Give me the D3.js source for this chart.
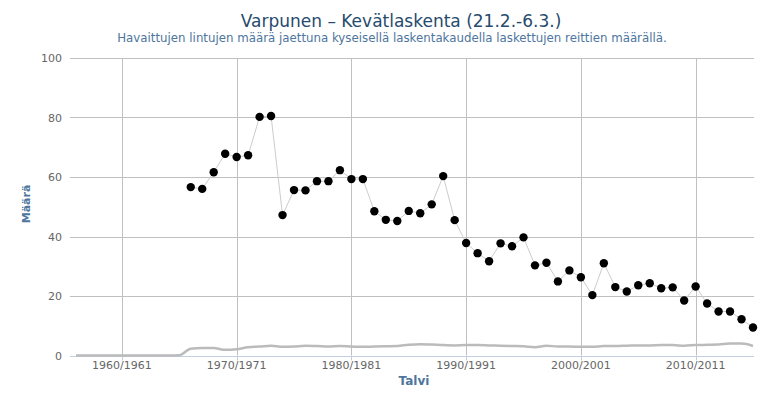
<!DOCTYPE html>
<html><head><meta charset="utf-8">
<script src="https://cdn.jsdelivr.net/npm/d3@7"></script>
<style>
body{margin:0;background:#fff;}
svg{font-family:"DejaVu Sans","Lucida Grande",sans-serif;}
</style></head>
<body><svg id="c" width="784" height="396"></svg>
<script>
const years = d3.range(1966, 2016);
const counts = [56.6,56.0,61.6,67.8,66.7,67.3,80.2,80.5,47.2,55.6,55.5,58.6,58.6,62.3,59.3,59.3,48.5,45.6,45.2,48.6,47.8,50.8,60.3,45.5,
37.8,34.4,31.7,37.7,36.7,39.7,30.3,31.2,24.9,28.6,26.3,20.3,31.0,23.0,21.5,23.6,24.3,22.6,22.9,18.5,23.2,17.5,14.8,14.8,12.2,9.4];
const routeYears = d3.range(1956, 2016);
const routes = [0,0,0,0,0,0,0,0,0,0.1,2.3,2.5,2.5,1.9,2.1,2.8,3.0,3.3,2.9,3.0,3.3,3.2,3.0,3.2,3.0,2.9,3.0,3.1,3.2,3.6,3.8,3.7,3.5,3.4,3.5,3.5,3.4,3.3,3.2,3.1,2.8,3.3,3.0,3.0,2.9,2.9,3.2,3.2,3.3,3.4,3.4,3.5,3.5,3.3,3.5,3.6,3.7,4.0,4.0,3.2];
const xTicks = [1960,1970,1980,1990,2000,2010];
const yTicks = [0,20,40,60,80,100];
const title = "Varpunen – Kevätlaskenta (21.2.-6.3.)";
const subtitle = "Havaittujen lintujen määrä jaettuna kyseisellä laskentakaudella laskettujen reittien määrällä.";

const svg = d3.select("#c");
const x = d3.scaleLinear().domain([1956, 2015]).range([76, 753]);
const y = d3.scaleLinear().domain([0, 100]).range([355.5, 58]);
const gridL = 70, gridR = 754;

// horizontal grid
svg.append("g").selectAll("line").data(yTicks.filter(d=>d>0)).join("line")
  .attr("x1", gridL).attr("x2", gridR).attr("y1", d=>Math.round(y(d))+0.5).attr("y2", d=>Math.round(y(d))+0.5)
  .attr("stroke", "#C0C0C0").attr("stroke-width", 1);
// vertical grid
svg.append("g").selectAll("line").data(xTicks).join("line")
  .attr("x1", d=>Math.round(x(d))+0.5).attr("x2", d=>Math.round(x(d))+0.5)
  .attr("y1", 58).attr("y2", y(0))
  .attr("stroke", "#C0C0C0").attr("stroke-width", 1);
// x axis line and ticks
svg.append("line").attr("x1", gridL).attr("x2", gridR).attr("y1", Math.round(y(0))+0.5).attr("y2", Math.round(y(0))+0.5)
  .attr("stroke", "#C0D0E0").attr("stroke-width", 1);
svg.append("g").selectAll("line").data(xTicks).join("line")
  .attr("x1", d=>Math.round(x(d))+0.5).attr("x2", d=>Math.round(x(d))+0.5)
  .attr("y1", y(0)).attr("y2", y(0)+5)
  .attr("stroke", "#C0D0E0").attr("stroke-width", 1);

// y labels
svg.append("g").selectAll("text").data(yTicks).join("text")
  .attr("x", 62).attr("y", d=>y(d)+4).attr("text-anchor", "end")
  .attr("font-size", 11).attr("fill", "#666").text(d=>d);
// x labels
svg.append("g").selectAll("text").data(xTicks).join("text")
  .attr("x", d=>x(d)).attr("y", 369).attr("text-anchor", "middle")
  .attr("font-size", 11).attr("fill", "#666").text(d=>d+"/"+(d+1));

// axis titles
svg.append("text").attr("x", 414).attr("y", 385).attr("text-anchor","middle")
  .attr("font-size", 12).attr("font-weight","bold").attr("fill","#4d759e").text("Talvi");
svg.append("text").attr("transform","translate(30,204) rotate(-90)").attr("text-anchor","middle")
  .attr("font-size", 11).attr("font-weight","bold").attr("fill","#4d759e").text("Määrä");

// titles
svg.append("text").attr("x", 401).attr("y", 27).attr("text-anchor","middle")
  .attr("font-size", 17).attr("fill","#274b6d").text(title);
svg.append("text").attr("x", 392).attr("y", 42).attr("text-anchor","middle")
  .attr("font-size", 11.8).attr("fill","#4d759e").text(subtitle);

// routes line (smooth)
const rData = routeYears.map((yr,i)=>[yr, routes[i]]);
svg.append("path").datum(rData)
  .attr("d", d3.line().x(d=>x(d[0])).y(d=>y(d[1])).curve(d3.curveMonotoneX))
  .attr("fill","none").attr("stroke","#bbbbbb").attr("stroke-width",2.5);

// count line
const cData = years.map((yr,i)=>[yr, counts[i]]);
svg.append("path").datum(cData)
  .attr("d", d3.line().x(d=>x(d[0])).y(d=>y(d[1])))
  .attr("fill","none").attr("stroke","#cccccc").attr("stroke-width",1);
svg.append("g").selectAll("circle").data(cData).join("circle")
  .attr("cx", d=>x(d[0])).attr("cy", d=>y(d[1])).attr("r", 4.2).attr("fill","#000");
</script></body></html>
